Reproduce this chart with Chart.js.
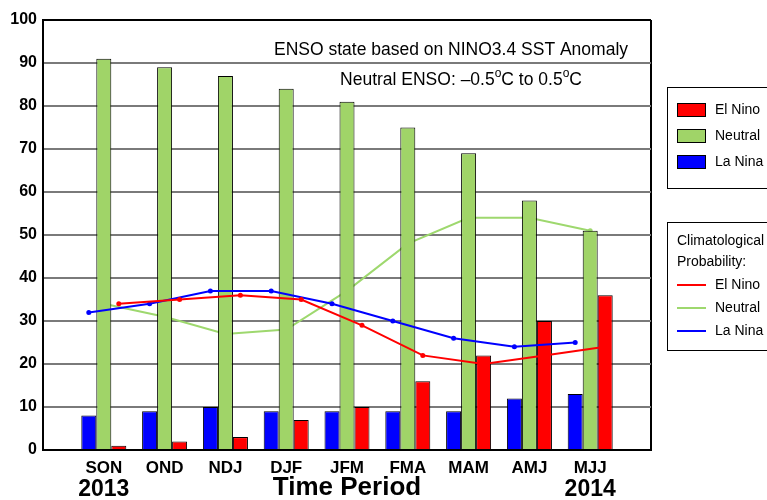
<!DOCTYPE html>
<html><head><meta charset="utf-8">
<script src="https://cdn.jsdelivr.net/npm/chart.js@4"></script>
<style>html,body{margin:0;padding:0;background:#fff}#wrap{width:767px;height:500px}</style>
</head><body><div id="wrap"><canvas id="c" width="767" height="500"></canvas></div>
<script>
// ---- data ----
const categories = ['SON','OND','NDJ','DJF','JFM','FMA','MAM','AMJ','MJJ'];
const laNinaProb  = [8, 9, 10, 9, 9, 9, 9, 12, 13];
const neutralProb = [91, 89, 87, 84, 81, 75, 69, 58, 51];
const elNinoProb  = [1, 2, 3, 7, 10, 16, 22, 30, 36];
const climElNino  = [34, 35, 36, 35, 29, 22, 20, 22, 24];
const climNeutral = [34, 31, 27, 28, 37, 48, 54, 54, 51];
const climLaNina  = [32, 34, 37, 37, 34, 30, 26, 24, 25];
const yearLabels  = ['2013', '2014'];
const xTitle = 'Time Period';
const yTickStep = 10;

const FONT = "'Liberation Sans', Arial, Helvetica, sans-serif";
const RED = '#ff0000', BLUE = '#0000ff', GREEN = '#a0d468', GREENLINE = '#9ed86e';
const pad = a => [null, ...a, null];
const labels = ['', ...categories, ''];

const alignPlugin = {
  id: 'alignLines',
  afterDatasetsUpdate(chart) {
    chart.data.datasets.forEach((ds, i) => {
      if (ds.alignTo === undefined) return;
      const lm = chart.getDatasetMeta(i), bm = chart.getDatasetMeta(ds.alignTo);
      lm.data.forEach((pt, j) => { const b = bm.data[j]; if (b) pt.x = b.x; });
    });
  }
};

const decorPlugin = {
  id: 'decor',
  afterDraw(chart) {
    const ctx = chart.ctx, ca = chart.chartArea, xs = chart.scales.x;
    ctx.save();
    ctx.fillStyle = '#000';
    ctx.textBaseline = 'middle';
    // annotation texts
    ctx.font = '17.5px ' + FONT;
    ctx.textAlign = 'center';
    ctx.fillText('ENSO state based on NINO3.4 SST Anomaly', 451, 50);
    // Neutral ENSO line with superscripts
    const parts = [['Neutral ENSO: \u20130.5', false], ['o', true], ['C to 0.5', false], ['o', true], ['C', false]];
    let w = 0;
    parts.forEach(([t, sup]) => { ctx.font = (sup ? '12px ' : '17.5px ') + FONT; w += ctx.measureText(t).width; });
    let x = 461 - w / 2;
    ctx.textAlign = 'left';
    parts.forEach(([t, sup]) => {
      ctx.font = (sup ? '12px ' : '17.5px ') + FONT;
      ctx.fillText(t, x, sup ? 74 : 80);
      x += ctx.measureText(t).width;
    });
    // bottom labels
    ctx.font = 'bold 23px ' + FONT;
    ctx.textAlign = 'center';
    ctx.fillText(yearLabels[0], xs.getPixelForValue(1), 490);
    ctx.fillText(yearLabels[1], xs.getPixelForValue(categories.length), 490);
    ctx.font = 'bold 26px ' + FONT;
    ctx.fillText(xTitle, (ca.left + ca.right) / 2, 488);

    // legend box 1 (bars)
    const ds = chart.data.datasets;
    ctx.lineWidth = 1;
    ctx.strokeStyle = '#000';
    ctx.strokeRect(667.5, 87.5, 130, 101);
    ctx.font = '14px ' + FONT;
    ctx.textAlign = 'left';
    const barOrder = [2, 1, 0];
    const ys1 = [110, 136, 162];
    barOrder.forEach((di, k) => {
      ctx.fillStyle = ds[di].backgroundColor;
      ctx.fillRect(677, ys1[k] - 7, 29, 14);
      ctx.strokeStyle = '#000';
      ctx.strokeRect(677.5, ys1[k] - 6.5, 28, 13);
      ctx.fillStyle = '#000';
      ctx.fillText(ds[di].label, 715, ys1[k]);
    });
    // legend box 2 (lines)
    ctx.strokeRect(667.5, 222.5, 130, 128);
    ctx.fillText('Climatological', 677, 241);
    ctx.fillText('Probability:', 677, 262);
    const lineOrder = [3, 4, 5];
    const ys2 = [285, 308, 331];
    lineOrder.forEach((di, k) => {
      ctx.strokeStyle = ds[di].borderColor;
      ctx.lineWidth = 2;
      ctx.beginPath(); ctx.moveTo(677, ys2[k]); ctx.lineTo(706, ys2[k]); ctx.stroke();
      ctx.fillStyle = '#000';
      ctx.fillText(ds[di].label, 715, ys2[k]);
    });
    ctx.restore();
  }
};

new Chart(document.getElementById('c'), {
  data: {
    labels,
    datasets: [
      { type: 'bar', label: 'La Nina', data: pad(laNinaProb), backgroundColor: BLUE, borderColor: '#000', borderWidth: 1, order: 1 },
      { type: 'bar', label: 'Neutral', data: pad(neutralProb), backgroundColor: GREEN, borderColor: '#000', borderWidth: 1, order: 1 },
      { type: 'bar', label: 'El Nino', data: pad(elNinoProb), backgroundColor: RED, borderColor: '#000', borderWidth: 1, order: 1 },
      { type: 'line', label: 'El Nino', data: pad(climElNino), borderColor: RED, backgroundColor: RED, borderWidth: 2, pointRadius: 2.5, pointBorderWidth: 0, tension: 0, order: 0, alignTo: 2 },
      { type: 'line', label: 'Neutral', data: pad(climNeutral), borderColor: GREENLINE, backgroundColor: GREENLINE, borderWidth: 2, pointRadius: 2.5, pointBorderWidth: 0, tension: 0, order: 2, alignTo: 1 },
      { type: 'line', label: 'La Nina', data: pad(climLaNina), borderColor: BLUE, backgroundColor: BLUE, borderWidth: 2, pointRadius: 2.5, pointBorderWidth: 0, tension: 0, order: 0, alignTo: 0 }
    ]
  },
  options: {
    responsive: false,
    animation: false,
    events: [],
    layout: { padding: { left: 0, right: 116, top: 20, bottom: 0 } },
    datasets: { bar: { barPercentage: 1, categoryPercentage: 0.74 } },
    plugins: { legend: { display: false }, tooltip: { enabled: false }, title: { display: false } },
    scales: {
      x: {
        type: 'category', offset: false,
        afterFit: s => { s.height = 50; },
        grid: { offset: false, drawTicks: false, lineWidth: 2, color: c => (c.index === labels.length - 1 ? '#000' : 'rgba(0,0,0,0)') },
        border: { color: '#000', width: 2 },
        ticks: { autoSkip: false, maxRotation: 0, padding: 8, color: '#000', font: { family: FONT, size: 17, weight: 'bold' } }
      },
      y: {
        min: 0, max: 100,
        afterFit: s => { s.width = 43; },
        grid: { drawTicks: false, lineWidth: 2, color: c => (c.tick && c.tick.value === 100 ? '#000' : '#7a7a7a') },
        border: { color: '#000', width: 2 },
        ticks: { stepSize: yTickStep, padding: 6, color: '#000', font: { family: FONT, size: 16, weight: 'bold' } }
      }
    }
  },
  plugins: [alignPlugin, decorPlugin]
});
</script></body></html>
